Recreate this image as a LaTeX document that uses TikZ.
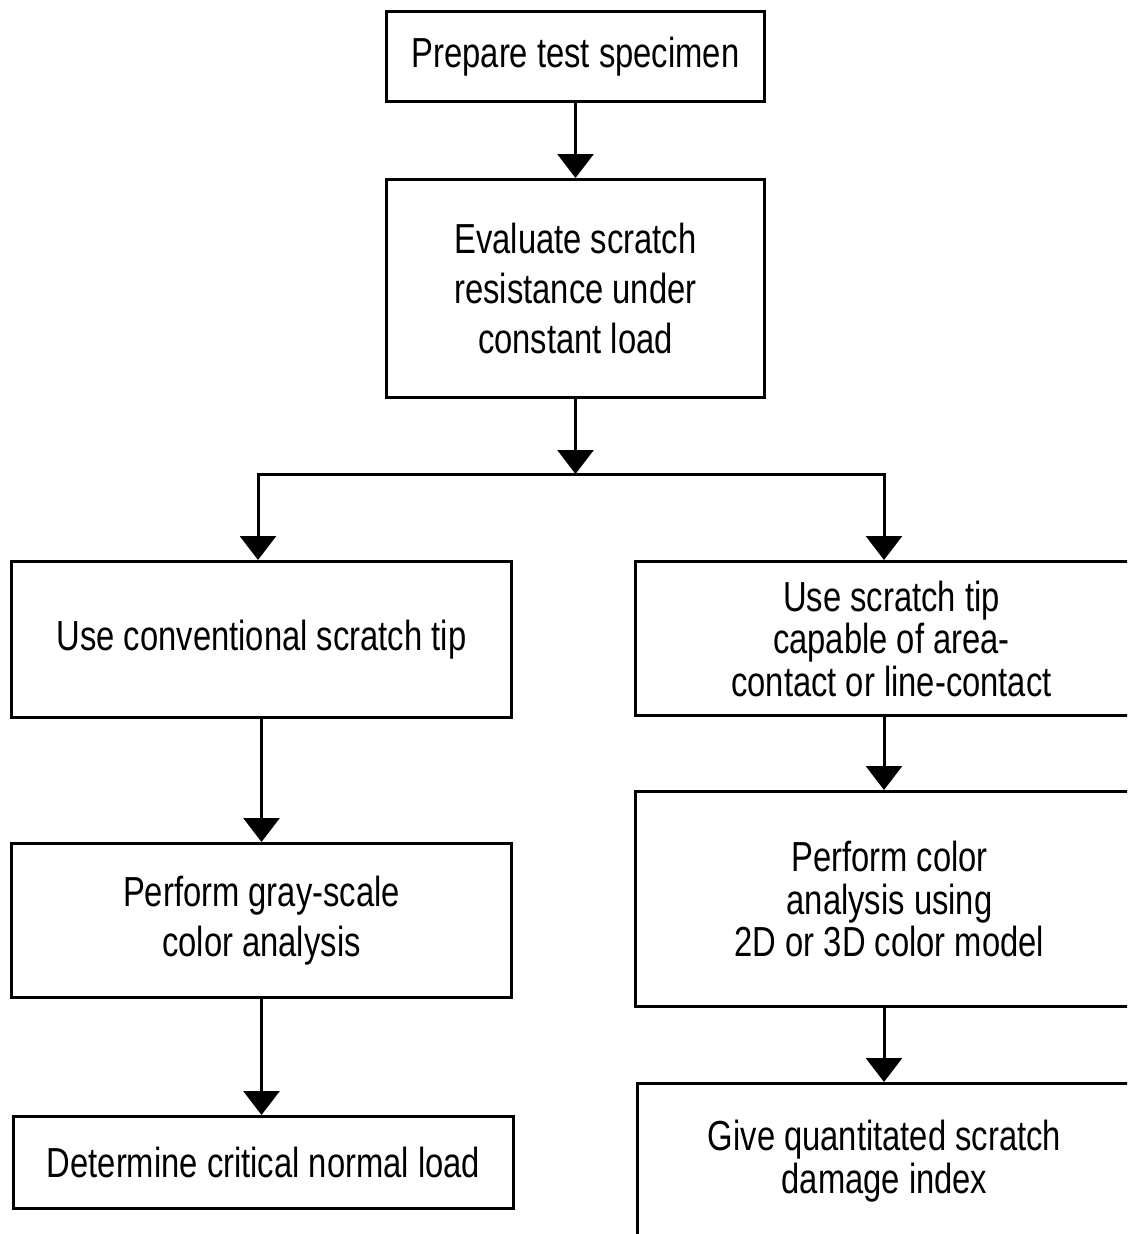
\documentclass[tikz,border=0pt]{standalone}
\usepackage{fontspec}
\setmainfont{Liberation Sans}[FakeStretch=0.78]
\usetikzlibrary{arrows.meta}
\begin{document}
\begin{tikzpicture}[x=1pt,y=-1pt,
  box/.style={draw,line width=3pt,inner sep=0pt,align=center,anchor=north west},
  wide/.style={font=\fontsize{42}{50}\selectfont},
  tight/.style={font=\fontsize{42}{42.5}\selectfont},
  flow/.style={line width=3pt,-{Triangle[width=36pt,length=24pt]}},
  link/.style={line width=3pt}]
\useasboundingbox (0,0) rectangle (1127,1234);
\clip (0,0) rectangle (1127,1234);

% main trunk
\node[box,wide,minimum width=378pt,minimum height=90pt] (prep) at (385,10) {Prepare test specimen};
\node[box,wide,minimum width=378pt,minimum height=218pt] (eval) at (385,178)
  {Evaluate scratch\\resistance under\\constant load};

% left branch: conventional tip
\node[box,wide,minimum width=500pt,minimum height=156pt] (conv) at (10,560) {Use conventional scratch tip};
\node[box,wide,minimum width=500pt,minimum height=154pt] (gray) at (10,842)
  {Perform gray-scale\\color analysis};
\node[box,wide,minimum width=500pt,minimum height=92pt] (crit) at (12,1115) {Determine critical normal load};

% right branch: area/line-contact tip
\node[box,tight,minimum width=512pt,minimum height=154pt] (tip) at (634,560)
  {Use scratch tip\\capable of area-\\contact or line-contact};
\node[box,tight,minimum width=508pt,minimum height=215pt] (color) at (634,790)
  {Perform color\\analysis using\\2D or 3D color model};
\node[box,font=\fontsize{42}{43}\selectfont,minimum width=494pt,minimum height=155pt] (index) at (636,1082)
  {Give quantitated scratch\\damage index};

% connectors
\coordinate (jl) at (258,474);
\coordinate (jr) at (884,474);
\draw[flow] (prep.south) -- (eval.north);
\draw[flow] (eval.south) -- (eval.south |- jl);
\draw[link,{Triangle[width=36pt,length=24pt]}-{Triangle[width=36pt,length=24pt]}]
  (jl |- conv.north) -- (jl) -- (jr) -- (jr |- tip.north);
\draw[flow] (conv.south) -- (gray.north);
\draw[flow] (gray.south) -- (gray.south |- crit.north);
\draw[flow] (tip.south -| jr) -- (color.north -| jr);
\draw[flow] (color.south -| jr) -- (index.north -| jr);
\end{tikzpicture}
\end{document}
